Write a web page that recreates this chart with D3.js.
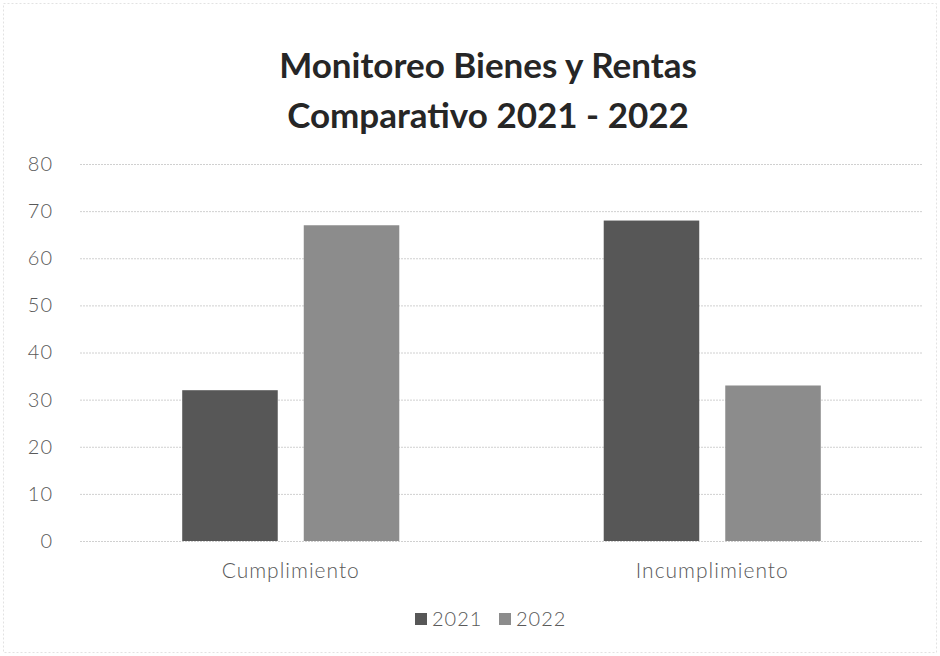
<!DOCTYPE html>
<html>
<head>
<meta charset="utf-8">
<script src="https://cdn.jsdelivr.net/npm/d3@7"></script>
<style>
  body { margin: 0; background: #fff; }
  text { font-family: Lato, "Open Sans", sans-serif; }
</style>
</head>
<body>
<div id="chart"></div>
<script>
// valores
let categorias = ['Cumplimiento', 'Incumplimiento'];
let series = ['2021', '2022'];
let valores2021 = [32, 68];
let valores2022 = [67, 33];
let ticksY = [0, 10, 20, 30, 40, 50, 60, 70, 80];
let titulo = ['Monitoreo Bienes y Rentas', 'Comparativo 2021 - 2022'];
let colores = ['#575757', '#8c8c8c'];

let width = 940, height = 656;
let margin = { top: 164, right: 17, bottom: 115, left: 80 };

let svg = d3.select('#chart').append('svg')
  .attr('width', width)
  .attr('height', height);

// borde tenue del area del grafico
svg.append('rect')
  .attr('x', 3.5).attr('y', 3.5)
  .attr('width', width - 7).attr('height', height - 7)
  .attr('fill', 'none')
  .attr('stroke', '#e2e2e2')
  .attr('stroke-dasharray', '2,2');

let datos = categorias.map((c, i) => ({
  cat: c,
  vals: [{ s: series[0], v: valores2021[i] }, { s: series[1], v: valores2022[i] }]
}));

let x0 = d3.scaleBand()
  .domain(categorias)
  .range([margin.left, width - margin.right])
  .paddingInner(0.485)
  .paddingOuter(0.2425);

let x1 = d3.scaleBand()
  .domain(series)
  .range([0, x0.bandwidth()])
  .paddingInner(0.214)
  .paddingOuter(0);

let y = d3.scaleLinear()
  .domain([0, 80])
  .range([height - margin.bottom, margin.top]);

let color = d3.scaleOrdinal().domain(series).range(colores);

let estiloTexto = sel => sel
  .attr('fill', '#595959')
  .style('font-size', '20px')
  .style('font-weight', 300)
  .style('letter-spacing', '1px')
  .style('font-family', 'Lato, sans-serif');

// lineas de cuadricula + etiquetas del eje y
let yAxis = g => g
  .attr('transform', `translate(${margin.left},0)`)
  .call(d3.axisLeft(y)
    .tickValues(ticksY)
    .tickSize(-(width - margin.left - margin.right))
    .tickPadding(27))
  .call(g => g.select('.domain').remove())
  .call(g => g.selectAll('.tick line')
    .attr('stroke', '#d0d0d0')
    .attr('stroke-dasharray', '2,1'))
  .call(g => g.selectAll('.tick text').call(estiloTexto));

svg.append('g').call(yAxis);

// barras
svg.append('g')
  .selectAll('g')
  .data(datos)
  .join('g')
  .attr('transform', d => `translate(${x0(d.cat)},0)`)
  .selectAll('rect')
  .data(d => d.vals)
  .join('rect')
  .attr('x', d => x1(d.s))
  .attr('y', d => y(d.v))
  .attr('width', x1.bandwidth())
  .attr('height', d => y(0) - y(d.v))
  .attr('fill', d => color(d.s));

// etiquetas de categoria
let xAxis = g => g
  .attr('transform', `translate(0,${height - margin.bottom})`)
  .call(d3.axisBottom(x0).tickSize(0).tickPadding(22))
  .call(g => g.select('.domain').remove())
  .call(g => g.selectAll('.tick text').call(estiloTexto).style('font-size', '21px'));

svg.append('g').call(xAxis);

// titulo
svg.append('g')
  .selectAll('text')
  .data(titulo)
  .join('text')
  .attr('x', 488)
  .attr('y', (d, i) => 78 + i * 50)
  .attr('text-anchor', 'middle')
  .attr('fill', '#262626')
  .style('font-size', '35px')
  .style('font-weight', 'bold')
  .text(d => d);

// leyenda
let legend = svg.append('g')
  .selectAll('g')
  .data(series)
  .join('g')
  .attr('transform', (d, i) => `translate(${415 + i * 84},0)`);

legend.append('rect')
  .attr('x', 0).attr('y', 613)
  .attr('width', 12).attr('height', 12)
  .attr('fill', d => color(d));

legend.append('text')
  .attr('x', 17).attr('y', 626)
  .call(estiloTexto)
  .text(d => d);
</script>
</body>
</html>
